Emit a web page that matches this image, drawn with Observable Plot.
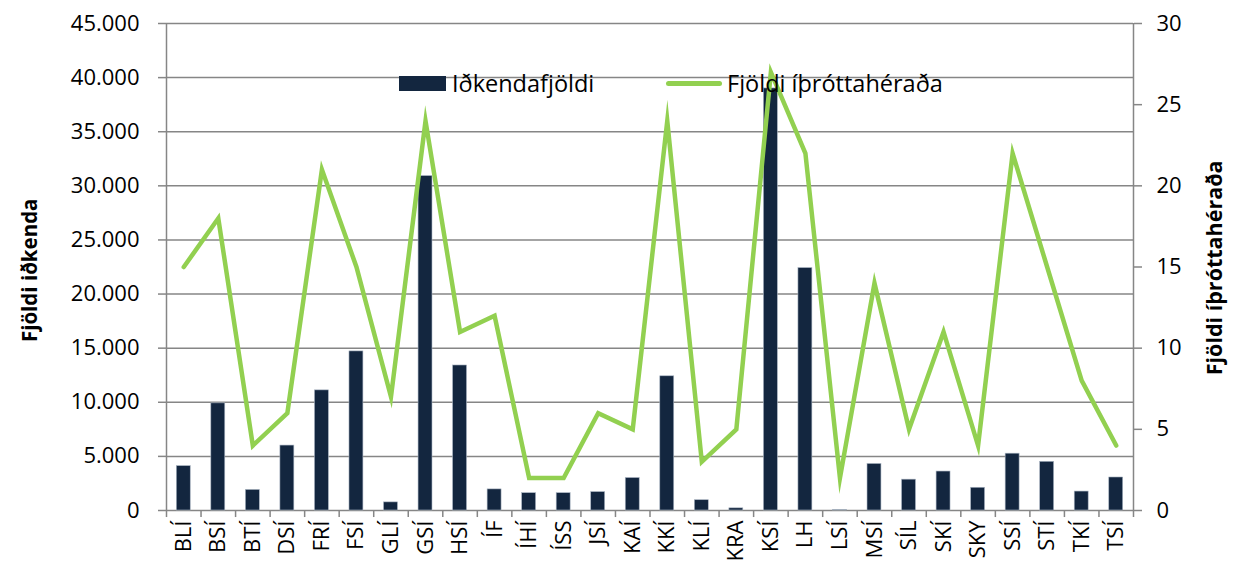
<!DOCTYPE html>
<html>
<head>
<meta charset="utf-8">
<script src="https://cdn.jsdelivr.net/npm/d3@7"></script>
<script src="https://cdn.jsdelivr.net/npm/@observablehq/plot@0.6"></script>
<style>
  html, body { margin: 0; padding: 0; background: #fff; }
  #wrap { position: relative; width: 1236px; height: 562px; overflow: hidden; font-family: "Open Sans", sans-serif; }
  .title { position: absolute; font-weight: bold; color: #000; white-space: nowrap; transform-origin: center center; line-height: 1.2; }
  .legend { position: absolute; top: 68px; font-size: 23.5px; line-height: 30px; color: #000; white-space: nowrap; display: flex; align-items: center; }
  .swatch-bar { display: inline-block; width: 47px; height: 15px; background: #13263f; margin-right: 6px; }
  .swatch-line { display: inline-block; width: 56px; height: 5px; border-radius: 3px; background: #92d050; margin-right: 5px; }
</style>
</head>
<body>
<div id="wrap"></div>
<script>
const categories = ["BLÍ","BSÍ","BTÍ","DSÍ","FRÍ","FSÍ","GLÍ","GSÍ","HSÍ","ÍF","ÍHÍ","ÍSS","JSÍ","KAÍ","KKÍ","KLÍ","KRA","KSÍ","LH","LSÍ","MSÍ","SÍL","SKÍ","SKY","SSÍ","STÍ","TKÍ","TSÍ"];
const participants = [4100, 9900, 1900, 6000, 11100, 14700, 750, 30900, 13400, 1950, 1600, 1600, 1700, 3000, 12400, 950, 200, 39000, 22400, 50, 4300, 2850, 3600, 2100, 5250, 4500, 1750, 3050];
const districts = [15, 18, 4, 6, 21, 15, 7, 24, 11, 12, 2, 2, 6, 5, 24, 3, 5, 27, 22, 2, 14, 5, 11, 4, 22, 15, 8, 4];
const leftTicks = [0, 5000, 10000, 15000, 20000, 25000, 30000, 35000, 40000, 45000];
const rightTicks = [0, 5, 10, 15, 20, 25, 30];
const seriesNames = ["Iðkendafjöldi", "Fjöldi íþróttahéraða"];
const axisTitles = ["Fjöldi iðkenda", "Fjöldi íþróttahéraða"];

const ratio = 45000 / 30;
const data = categories.map((c, i) => ({cat: c, p: participants[i], n: districts[i]}));

const W = 1236, H = 562, mL = 166, mR = 103, mT = 23, mB = 52;
const bw = (W - mL - mR) / categories.length;
const gray = "#868686";
const fmt = d => d3.format(",")(d).replace(/,/g, ".");

const chart = Plot.plot({
  width: W, height: H,
  marginLeft: mL, marginRight: mR, marginTop: mT, marginBottom: mB,
  style: {fontFamily: "Open Sans, sans-serif", fontSize: "22px", color: "#000", background: "#fff", overflow: "visible"},
  x: {domain: categories, padding: 0, round: false, label: null},
  y: {domain: [0, 45000], label: null},
  marks: [
    Plot.ruleY(leftTicks, {y: d => d, stroke: gray, strokeWidth: 1.5}),
    Plot.ruleX([categories[0]], {x: d => d, dx: -bw / 2, y1: 0, y2: 45000, stroke: gray, strokeWidth: 1.5}),
    Plot.ruleX([categories[categories.length - 1]], {x: d => d, dx: bw / 2, y1: -650, y2: 45000, stroke: gray, strokeWidth: 1.5}),
    Plot.ruleX(categories, {x: d => d, dx: -bw / 2, y1: 0, y2: -650, stroke: gray, strokeWidth: 1.5}),
    Plot.barY(data, {x: "cat", y: "p", fill: "#13263f", stroke: "#a9b4c2", strokeWidth: 0.6, insetLeft: 10.3, insetRight: 10.3}),
    Plot.lineY(data, {x: "cat", y: d => d.n * ratio, stroke: "#92d050", strokeWidth: 4.5, strokeLinejoin: "miter", strokeMiterlimit: 10}),
    Plot.axisX({tickSize: 0, tickPadding: 10, tickRotate: -90, fontSize: 22, label: null}),
    Plot.axisY({anchor: "left", ticks: leftTicks, tickFormat: fmt, tickSize: 8, tickPadding: 19, stroke: gray, strokeWidth: 1.5, strokeOpacity: 1, label: null}),
    Plot.axisY({anchor: "right", ticks: rightTicks.map(v => v * ratio), tickFormat: d => d / ratio, tickSize: 8, tickPadding: 15, stroke: gray, strokeWidth: 1.5, strokeOpacity: 1, label: null})
  ]
});

const wrap = document.getElementById("wrap");
wrap.appendChild(chart);

function addTitle(text, size, cx, cy) {
  const el = document.createElement("div");
  el.className = "title";
  el.style.fontSize = size + "px";
  el.textContent = text;
  wrap.appendChild(el);
  const w = el.offsetWidth, h = el.offsetHeight;
  el.style.left = (cx - w / 2) + "px";
  el.style.top = (cy - h / 2) + "px";
  el.style.transform = "rotate(-90deg)";
}
addTitle(axisTitles[0], 20.5, 29, 270);
addTitle(axisTitles[1], 21.5, 1214, 268);

function addLegend(left, swatchClass, text) {
  const el = document.createElement("div");
  el.className = "legend";
  el.style.left = left + "px";
  const sw = document.createElement("span");
  sw.className = swatchClass;
  const tx = document.createElement("span");
  tx.textContent = text;
  el.appendChild(sw);
  el.appendChild(tx);
  wrap.appendChild(el);
}
addLegend(399, "swatch-bar", seriesNames[0]);
addLegend(666, "swatch-line", seriesNames[1]);
</script>
</body>
</html>
